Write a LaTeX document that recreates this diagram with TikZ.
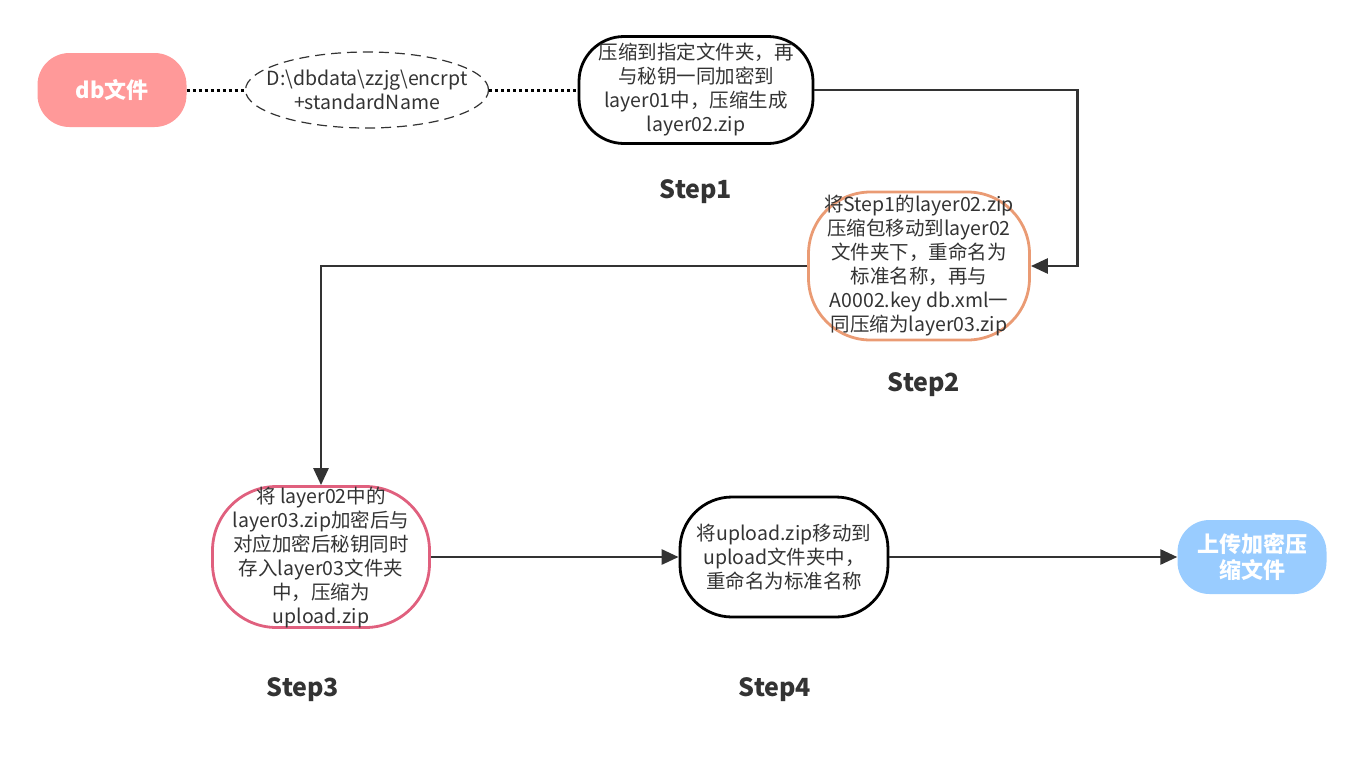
\documentclass[tikz,border=0pt]{standalone}
\usepackage{fontspec}
\setmainfont{Noto Sans CJK SC}
\usetikzlibrary{arrows.meta, positioning, shapes.geometric}
\definecolor{dbRed}{HTML}{FF9999}
\definecolor{upBlue}{HTML}{99CCFF}
\definecolor{txtGray}{HTML}{333333}
\definecolor{stepOrange}{HTML}{EA9B74}
\definecolor{stepPink}{HTML}{E0607E}
\tikzset{
	arrow/.style={-{Triangle[length=17pt,width=15pt]}, line width=2.8pt, draw=txtGray},
	dotline/.style={line width=3pt, dash pattern=on 3pt off 3pt},
	stepbox/.style={draw, line width=2.8pt, align=center, text=txtGray, inner sep=0pt,
		font=\fontsize{19.5}{24}\selectfont},
	pill/.style={rounded corners=32pt, align=center, text=white, inner sep=1pt,
		font=\bfseries\fontsize{22}{26}\selectfont},
	stepLabel/.style={font=\bfseries\fontsize{25}{30}\selectfont, text=txtGray},
	>=latex
}

\begin{document}
\begin{tikzpicture}[x=1pt, y=-1pt]
	% IMAGE SIZE
	\useasboundingbox (0,0) rectangle (1365,756);
	
	% start and end
	\node[pill, fill=dbRed, minimum width=149pt, minimum height=74pt] (db) at (112,90) {db文件};
	\node[pill, fill=upBlue, minimum width=149pt, minimum height=74pt] (upload) at (1252,557) {上传加密压\\缩文件};
	
	% folder path
	\node[ellipse, draw=txtGray, dashed, dash pattern=on 10pt off 6pt, line width=1.2pt,
		minimum width=243pt, minimum height=76pt, align=center, text=txtGray,
		font=\fontsize{19.5}{24}\selectfont, inner xsep=-26pt, inner ysep=0pt] (path) at (367,90)
		{D:\textbackslash dbdata\textbackslash zzjg\textbackslash encrpt\\+standardName};
	
	% Steps
	\node[stepbox, minimum width=234pt, minimum height=107pt, rounded corners=45pt] (step1) at (696,90)
		{压缩到指定文件夹，再\\与秘钥一同加密到\\layer01中，压缩生成\\layer02.zip};
	\node[stepbox, draw=stepOrange, minimum width=221pt, minimum height=148pt, rounded corners=62pt] (step2) at (919,266)
		{将Step1的layer02.zip\\压缩包移动到layer02\\文件夹下，重命名为\\标准名称，再与\\A0002.key db.xml一\\同压缩为layer03.zip};
	\node[stepbox, draw=stepPink, minimum width=217pt, minimum height=141pt, rounded corners=64pt] (step3) at (321,557)
		{将 layer02中的\\layer03.zip加密后与\\对应加密后秘钥同时\\存入layer03文件夹\\中，压缩为\\upload.zip};
	\node[stepbox, minimum width=208pt, minimum height=120pt, rounded corners=52pt] (step4) at (784,557)
		{将upload.zip移动到\\upload文件夹中，\\重命名为标准名称};
	
	% Step labels
	\node[stepLabel] (lab1) at (696,192) {Step1};
	\node[stepLabel] (lab2) at (924,385) {Step2};
	\node[stepLabel] (lab3) at (303,690) {Step3};
	\node[stepLabel] (lab4) at (775,690) {Step4};
	
	% dotted links
	\draw[dotline] (db.east) -- (path.west);
	\draw[dotline] (path.east) -- (step1.west);
	
	% arrows
	\draw[arrow] (step1.east) -- ++(263,0) |- (step2.east);
	\draw[arrow] (step2.west) -| (step3.north);
	\draw[arrow] (step3.east) -- (step4.west);
	\draw[arrow] (step4.east) -- (upload.west);
\end{tikzpicture}
\end{document}
